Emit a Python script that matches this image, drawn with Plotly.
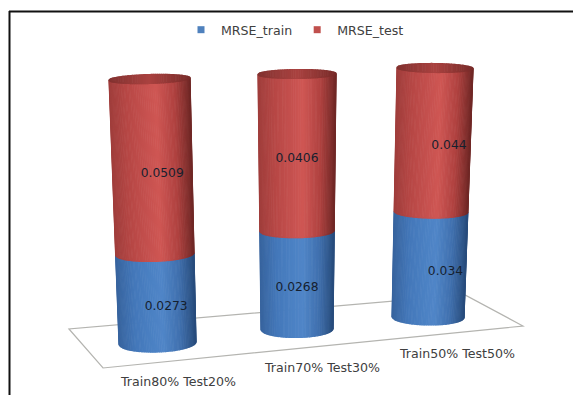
import math
import plotly.graph_objects as go

# Chart data
categories = ["Train80% Test20%", "Train70% Test30%", "Train50% Test50%"]
mrse_train = [0.0273, 0.0268, 0.034]
mrse_test = [0.0509, 0.0406, 0.044]
train_labels = ["0.0273", "0.0268", "0.034"]
test_labels = ["0.0509", "0.0406", "0.044"]

W, H = 573, 395

# Projected outline of each cylinder, in page pixels
cylinders = [
    dict(x_base=(119, 196), x_top=(109, 190), y_base=343, y_top=79, ry_base=9, ry_top=4.5, tilt=-1.2, label_dx=10),
    dict(x_base=(261, 333), x_top=(258, 336), y_base=329, y_top=74, ry_base=8.5, ry_top=4.5, tilt=-0.4, label_dx=0),
    dict(x_base=(392, 464), x_top=(397, 473), y_base=317, y_top=68, ry_base=8, ry_top=4.5, tilt=0.5, label_dx=16),
]
AXIS_PAD = 20  # room past each column's ends so the rounded faces are not clipped
category_label_pos = [(178, 381), (322, 367), (457, 353)]
floor_outline = [(69, 329), (103, 368), (523, 326), (465, 295)]

# Horizontal shading stops: position across the cylinder, then RGB
red_shade = [(-1, (160, 62, 60)), (-0.55, (184, 72, 70)), (0.15, (207, 87, 84)), (0.6, (176, 66, 64)), (1, (112, 40, 38))]
blue_shade = [(-1, (56, 100, 158)), (-0.55, (68, 120, 186)), (0.15, (80, 134, 200)), (0.6, (64, 112, 174)), (1, (40, 76, 124))]
cap_shade = [(-1, (130, 50, 48)), (0, (170, 66, 64)), (1, (120, 44, 42))]

N_STRIPS = 64
PERSPECTIVE = 0.95


def shade(stops, u):
    for (u0, c0), (u1, c1) in zip(stops, stops[1:]):
        if u <= u1:
            f = (u - u0) / (u1 - u0)
            rgb = [round(a + (b - a) * f) for a, b in zip(c0, c1)]
            return "rgb({},{},{})".format(*rgb)
    return "rgb({},{},{})".format(*stops[-1][1])


def foreshorten(pct):
    # The far end of a column is drawn slightly larger than the near end
    t = pct / 100
    return 100 * PERSPECTIVE * t / (1 - (1 - PERSPECTIVE) * t)


def surface_point(cyl, pct, u, side=1):
    """Axis position on a cylinder at stacked share pct; u runs across it, side=1 is the front arc."""
    level = foreshorten(pct)
    t = level / 100
    left = cyl["x_base"][0] + (cyl["x_top"][0] - cyl["x_base"][0]) * t
    right = cyl["x_base"][1] + (cyl["x_top"][1] - cyl["x_base"][1]) * t
    x = (left + right) / 2 + u * (right - left) / 2
    ry = cyl["ry_base"] + (cyl["ry_top"] - cyl["ry_base"]) * t
    span = cyl["y_base"] - cyl["y_top"]
    drop = side * ry * math.sqrt(max(0, 1 - u * u)) + cyl["tilt"] * u
    return x, level - 100 * drop / span


def strip_edges():
    angles = [-math.pi / 2 + math.pi * i / N_STRIPS for i in range(N_STRIPS + 1)]
    return [math.sin(a) for a in angles]


def arc(cyl, pct, u0, u1, side):
    return [surface_point(cyl, pct, u0 + (u1 - u0) * k / 2, side) for k in range(3)]


def add_strip(fig, poly, colour, axis):
    fig.add_trace(go.Scatter(
        x=[p[0] for p in poly], y=[p[1] for p in poly], yaxis=axis,
        mode="lines", fill="toself", fillcolor=colour,
        line=dict(color=colour, width=1.2), hoverinfo="skip", showlegend=False,
    ))


fig = go.Figure()
edges = strip_edges()

for i, cyl in enumerate(cylinders):
    axis = "y" if i == 0 else f"y{i + 1}"
    total = mrse_train[i] + mrse_test[i]
    share = 100 * mrse_train[i] / total

    for lo, hi, stops in [(0, share, blue_shade), (share, 100, red_shade)]:
        for u0, u1 in zip(edges, edges[1:]):
            add_strip(fig, arc(cyl, lo, u0, u1, 1) + arc(cyl, hi, u1, u0, 1),
                      shade(stops, (u0 + u1) / 2), axis)

    # Top face of the column
    for u0, u1 in zip(edges, edges[1:]):
        add_strip(fig, arc(cyl, 100, u0, u1, 1) + arc(cyl, 100, u1, u0, -1),
                  shade(cap_shade, (u0 + u1) / 2), axis)

    # Value labels sit at the middle of each stacked segment
    mid_points = [surface_point(cyl, share / 2, 0), surface_point(cyl, (share + 100) / 2, 0)]
    fig.add_trace(go.Scatter(
        x=[p[0] + cyl["label_dx"] for p in mid_points], y=[p[1] for p in mid_points], yaxis=axis,
        mode="text", text=[train_labels[i], test_labels[i]],
        textfont=dict(family="DejaVu Sans", size=12.3, color="#15202e"),
        textposition="middle center", hoverinfo="skip", showlegend=False,
    ))

# Legend entries
for name, colour in [("MRSE_train", "#4f81bd"), ("MRSE_test", "#c0504d")]:
    fig.add_trace(go.Scatter(
        x=[None], y=[None], mode="markers", name=name,
        marker=dict(symbol="square", size=7, color=colour),
    ))


def page_x(px):
    return px / W


def page_y(px):
    return 1 - px / H


layout_axes = {}
for i, cyl in enumerate(cylinders):
    key = "yaxis" if i == 0 else f"yaxis{i + 1}"
    pad = 100 * AXIS_PAD / (cyl["y_base"] - cyl["y_top"])
    layout_axes[key] = dict(
        domain=[page_y(cyl["y_base"] + AXIS_PAD), page_y(cyl["y_top"] - AXIS_PAD)],
        range=[-pad, 100 + pad], visible=False, fixedrange=True,
        anchor="x",
    )

floor_path = "M " + " L ".join(f"{page_x(x):.4f},{page_y(y):.4f}" for x, y in floor_outline) + " Z"

fig.update_layout(
    width=W, height=H, autosize=False,
    margin=dict(l=0, r=0, t=0, b=0),
    paper_bgcolor="white", plot_bgcolor="rgba(0,0,0,0)",
    xaxis=dict(range=[0, W], domain=[0, 1], visible=False, fixedrange=True),
    showlegend=True,
    legend=dict(
        orientation="h", x=page_x(295), y=page_y(30), xanchor="center", yanchor="middle",
        font=dict(family="DejaVu Sans", size=12.6, color="#404040"),
        bgcolor="rgba(0,0,0,0)", itemwidth=30, tracegroupgap=0,
    ),
    shapes=[
        dict(type="path", xref="paper", yref="paper", path=floor_path,
             line=dict(color="#b4b4b0", width=1.2), fillcolor="white", layer="below"),
        # Frame along the top and left
        dict(type="line", xref="paper", yref="paper", x0=page_x(9), x1=1, y0=page_y(11.5), y1=page_y(11.5),
             line=dict(color="#111111", width=2), layer="below"),
        dict(type="line", xref="paper", yref="paper", x0=page_x(9.5), x1=page_x(9.5), y0=page_y(11), y1=0,
             line=dict(color="#111111", width=2), layer="below"),
    ],
    annotations=[
        dict(text=cat, x=page_x(x), y=page_y(y), xref="paper", yref="paper", showarrow=False,
             xanchor="center", yanchor="middle",
             font=dict(family="DejaVu Sans", size=12.6, color="#404040"))
        for cat, (x, y) in zip(categories, category_label_pos)
    ],
    **layout_axes,
)

fig.write_html("out.html")
